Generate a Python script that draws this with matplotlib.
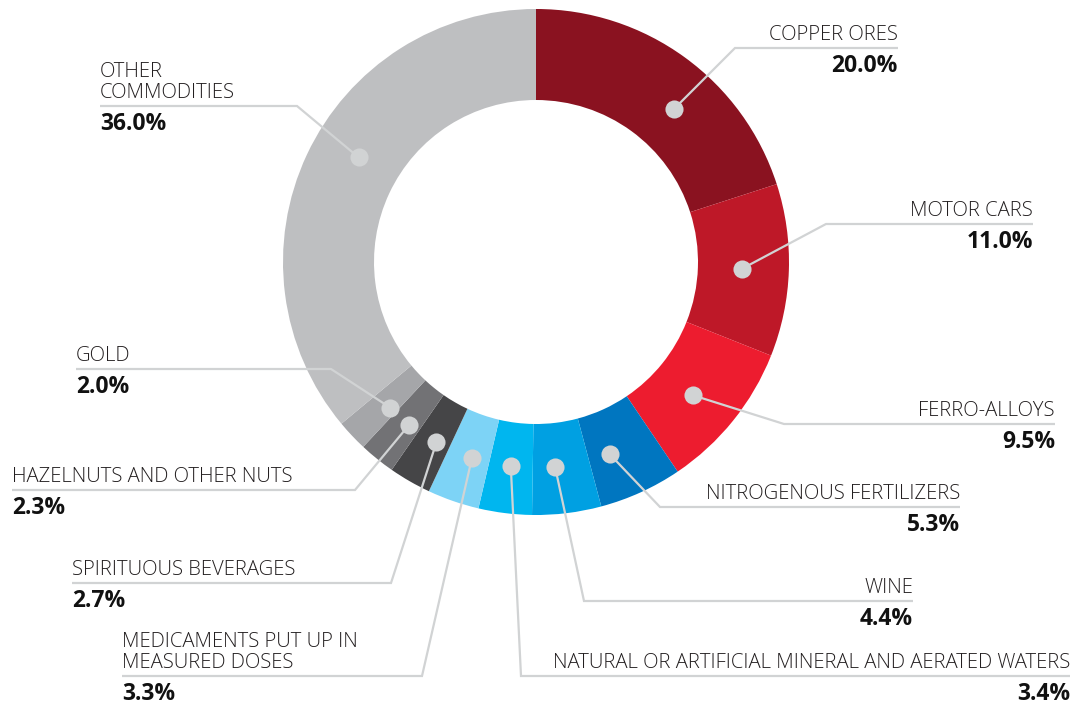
import matplotlib
matplotlib.use('Agg')
import matplotlib.pyplot as plt
import numpy as np

# commodity shares, clockwise from 12 o'clock
labels = ['COPPER ORES', 'MOTOR CARS', 'FERRO-ALLOYS', 'NITROGENOUS FERTILIZERS', 'WINE',
          'NATURAL OR ARTIFICIAL MINERAL AND AERATED WATERS',
          'MEDICAMENTS PUT UP IN\nMEASURED DOSES', 'SPIRITUOUS BEVERAGES',
          'HAZELNUTS AND OTHER NUTS', 'GOLD', 'OTHER\nCOMMODITIES']
shares = [20.0, 11.0, 9.5, 5.3, 4.4, 3.4, 3.3, 2.7, 2.3, 2.0, 36.0]
colors = ['#8A1220', '#BE1828', '#ED1C2F', '#0076C0', '#00A0E2', '#00B6EF',
          '#7DD3F6', '#454547', '#727275', '#A5A6A9', '#BEBFC1']

# label layout: elbow of the leader line, far end of the underline,
# and a small angular nudge (deg, clockwise) for the dot inside its wedge
elbow_x = [735, 826, 784, 660, 584, 521, 422, 391, 355, 331, 297]
elbow_y = [48, 224, 424, 507, 601, 676, 676, 583, 490, 369, 106]
line_end = [898, 1033, 1055, 960, 913, 1070, 122, 72, 12, 76, 100]
dot_nudge = [6, 0, 1.5, 3.5, 1.7, 0, -1, -1, -1, -1.7, 5.4]

W, H = 1077, 707
cx, cy = 536, 262
r_out, r_in = 253, 162
r_dot = 206
line_col = '#D1D3D4'

fig = plt.figure(figsize=(W / 100, H / 100), dpi=100)
ax = fig.add_axes([0, 0, 1, 1])

# y axis is inverted below, so counterclock=True draws clockwise on screen
wedges, _ = ax.pie(shares, colors=colors, startangle=270, counterclock=True,
                   radius=r_out, center=(cx, cy),
                   wedgeprops=dict(width=r_out - r_in, linewidth=0))
ax.set_xlim(0, W)
ax.set_ylim(H, 0)
ax.set_aspect('equal')
ax.axis('off')

name_font = dict(family=['Open Sans', 'DejaVu Sans'], fontweight='light', fontsize=14.6, color='#231F20')
pct_font = dict(family=['Open Sans', 'DejaVu Sans'], fontweight='bold', fontsize=16.5, color='#111111')

for i, w in enumerate(wedges):
    mid = np.deg2rad((w.theta1 + w.theta2) / 2 + dot_nudge[i])
    dx = cx + r_dot * np.cos(mid)
    dy = cy + r_dot * np.sin(mid)
    ex, ey, lx = elbow_x[i], elbow_y[i], line_end[i]
    ax.plot([dx, ex, lx], [dy, ey, ey], color=line_col, lw=1.6, zorder=3,
            solid_capstyle='butt', solid_joinstyle='miter')
    ax.scatter([dx], [dy], s=170, color=line_col, zorder=4, linewidths=0)
    ha = 'right' if lx > ex else 'left'
    ax.text(lx, ey - 3, labels[i], ha=ha, va='bottom', linespacing=1.05, **name_font)
    ax.text(lx, ey + 6, f'{shares[i]:.1f}%', ha=ha, va='top', **pct_font)

fig.savefig('out.png', dpi=100)
